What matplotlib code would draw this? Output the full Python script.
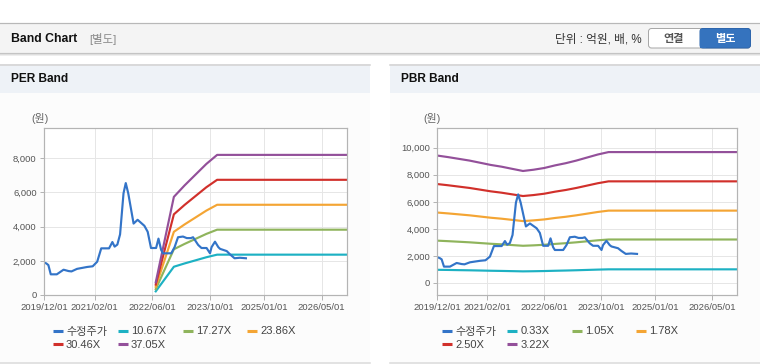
import matplotlib
matplotlib.use('Agg')
import matplotlib.pyplot as plt
import matplotlib.dates as mdates
from matplotlib.patches import Rectangle, FancyBboxPatch
import pandas as pd

plt.rcParams['font.family'] = ['Liberation Sans', 'Noto Sans CJK KR', 'DejaVu Sans']

# ---------------- data ----------------
price_dates = ['2019-12-01', '2019-12-20', '2020-01-07', '2020-01-27', '2020-03-18', '2020-05-14',
               '2020-06-26', '2020-07-20', '2020-09-05', '2020-11-29', '2021-01-15', '2021-02-22',
               '2021-03-28', '2021-06-02', '2021-06-30', '2021-07-19', '2021-08-11', '2021-09-03',
               '2021-10-02', '2021-10-21', '2021-11-11', '2021-12-26', '2022-01-29', '2022-03-27',
               '2022-04-24', '2022-05-22', '2022-07-04', '2022-07-24', '2022-08-15', '2022-08-30',
               '2022-11-09', '2022-12-07', '2023-01-05', '2023-02-16', '2023-03-20', '2023-04-23',
               '2023-05-12', '2023-06-24', '2023-07-22', '2023-09-03', '2023-10-02', '2023-10-15',
               '2023-11-13', '2023-12-11', '2023-12-26', '2024-02-20', '2024-03-20', '2024-04-26',
               '2024-06-10', '2024-07-31']
price_vals = [1900, 1850, 1750, 1210, 1210, 1480,
              1400, 1380, 1530, 1640, 1680, 1950,
              2730, 2730, 3100, 2830, 2950, 3550,
              5950, 6550, 5950, 4180, 4400, 4050,
              3700, 2750, 2750, 3300, 2650, 2440,
              2440, 2800, 3380, 3420, 3330, 3330,
              3380, 2930, 2750, 2750, 2440, 2800,
              3120, 2800, 2700, 2570, 2370, 2150,
              2180, 2150]

per_dates = ['2022-07-01', '2022-12-01', '2023-03-01', '2023-06-01', '2023-09-01', '2023-12-01', '2026-12-01']
per_10_67 = [213, 1654, 1846, 2027, 2209, 2361, 2361]
per_17_27 = [345, 2677, 2988, 3281, 3575, 3822, 3822]
per_23_86 = [477, 3698, 4128, 4533, 4939, 5280, 5280]
per_30_46 = [609, 4721, 5270, 5787, 6305, 6741, 6741]
per_37_05 = [741, 5743, 6410, 7040, 7669, 8199, 8199]
per_labels = ['수정주가', '10.67X', '17.27X', '23.86X', '30.46X', '37.05X']

pbr_dates = ['2019-12-01', '2020-03-01', '2020-06-01', '2020-09-01', '2020-12-01', '2021-03-01',
             '2021-06-01', '2021-09-01', '2021-12-01', '2022-03-01', '2022-06-01', '2022-09-01',
             '2022-12-01', '2023-03-01', '2023-06-01', '2023-09-01', '2023-12-01', '2026-12-01']
pbr_0_33 = [975, 965, 950, 938, 922, 905, 892, 876, 860, 870, 884, 905, 922, 942, 966, 990, 1010, 1010]
pbr_1_05 = [3130, 3092, 3050, 3007, 2953, 2900, 2857, 2803, 2751, 2782, 2825, 2889, 2943, 3007, 3082, 3157, 3215, 3215]
pbr_1_78 = [5207, 5144, 5073, 5002, 4913, 4824, 4753, 4664, 4576, 4628, 4699, 4806, 4895, 5002, 5126, 5251, 5349, 5349]
pbr_2_50 = [7313, 7225, 7125, 7025, 6900, 6775, 6675, 6550, 6428, 6500, 6600, 6750, 6875, 7025, 7200, 7375, 7513, 7513]
pbr_3_22 = [9419, 9306, 9177, 9048, 8887, 8726, 8597, 8436, 8279, 8372, 8501, 8694, 8855, 9048, 9274, 9499, 9676, 9676]
pbr_labels = ['수정주가', '0.33X', '1.05X', '1.78X', '2.50X', '3.22X']

x_ticks = ['2019-12-01', '2021-02-01', '2022-06-01', '2023-10-01', '2025-01-01', '2026-05-01']
x_range = ['2019-12-01', '2026-12-01']
per_yticks = [0, 2000, 4000, 6000, 8000]
pbr_yticks = [0, 2000, 4000, 6000, 8000, 10000]

colors = ['#3374c8', '#1db1c3', '#8fb45c', '#f4a534', '#d1302b', '#93509a']

# ---------------- figure ----------------
W, H = 760, 364
fig = plt.figure(figsize=(W / 100, H / 100), dpi=100)
fig.patch.set_facecolor('white')
bg = fig.add_axes([0, 0, 1, 1], zorder=0)
bg.set_xlim(0, W)
bg.set_ylim(H, 0)
bg.axis('off')

PX = 0.72  # 1px in points

# top header
bg.add_patch(Rectangle((0, 22.5), W, 30, facecolor='#f4f4f4', edgecolor='none'))
bg.plot([0, W], [22.5, 22.5], color='#b8b8b8', lw=1.2 * PX)
bg.plot([0, W], [53, 53], color='#c4c4c4', lw=1.2 * PX)
bg.plot([0, W], [54.2, 54.2], color='#dedede', lw=1 * PX)
bg.plot([0, W], [55.2, 55.2], color='#eeeeee', lw=1 * PX)
bg.text(11, 38.5, 'Band Chart', fontsize=8.8, fontweight='bold', color='#111111', va='center', ha='left')
bg.text(89, 39.3, '[별도]', fontsize=8.2, color='#8a8a8a', va='center', ha='left')
bg.text(642, 39.3, '단위 : 억원, 배, %', fontsize=8.4, color='#333333', va='center', ha='right')
bg.add_patch(FancyBboxPatch((648.5, 28.5), 102, 19.5, boxstyle='round,pad=0,rounding_size=3',
                            facecolor='white', edgecolor='#a8a8a8', lw=1 * PX))
bg.add_patch(FancyBboxPatch((700, 28.5), 50.5, 19.5, boxstyle='round,pad=0,rounding_size=3',
                            facecolor='#3573be', edgecolor='#2e66ad', lw=1 * PX))
bg.add_patch(Rectangle((700, 28.5), 6, 19.5, facecolor='#3573be', edgecolor='none'))
bg.text(674, 39.3, '연결', fontsize=8, fontweight='bold', color='#555555', va='center', ha='center')
bg.text(725.5, 39.3, '별도', fontsize=8, fontweight='bold', color='white', va='center', ha='center')

# panels
for px0, title in [(0, 'PER Band'), (390, 'PBR Band')]:
    bg.add_patch(Rectangle((px0, 64), 370, 299, facecolor='#fcfcfc', edgecolor='none'))
    bg.add_patch(Rectangle((px0, 64), 370, 28.5, facecolor='#eef2f7', edgecolor='none'))
    bg.plot([px0, px0 + 370], [64.5, 64.5], color='#d4d4d4', lw=1.6 * PX)
    bg.plot([px0, px0 + 370], [363, 363], color='#dcdcdc', lw=1.6 * PX)
    bg.text(px0 + 11, 79, title, fontsize=8.6, fontweight='bold', color='#111111', va='center', ha='left')

bg.text(39.7, 118.6, '(원)', fontsize=7.8, color='#666666', va='center', ha='center')
bg.text(431.7, 118.6, '(원)', fontsize=7.8, color='#666666', va='center', ha='center')


def make_axes(x0, x1, y0, y1):
    return fig.add_axes([x0 / W, 1 - y1 / H, (x1 - x0) / W, (y1 - y0) / H], zorder=2)


def style_axes(ax, ylim, yticks):
    ax.set_facecolor('white')
    ax.set_xlim(pd.to_datetime(x_range[0]), pd.to_datetime(x_range[1]))
    ax.set_ylim(*ylim)
    ax.set_yticks(yticks)
    ax.set_yticklabels([f'{v:,}' for v in yticks])
    ax.set_xticks(pd.to_datetime(x_ticks))
    ax.xaxis.set_major_formatter(mdates.DateFormatter('%Y/%m/%d'))
    for s in ax.spines.values():
        s.set_color('#b4b4b4')
        s.set_linewidth(1.2 * PX)
    ax.grid(True, color='#e6e6e6', lw=1 * PX)
    ax.set_axisbelow(True)
    ax.tick_params(axis='both', direction='out', length=4.5 * PX, width=1 * PX, color='#b4b4b4',
                   labelsize=6.8, labelcolor='#555555')
    ax.tick_params(axis='y', pad=2.0)
    ax.tick_params(axis='x', pad=2.4)


def draw_legend(x_off, labels):
    cols = [53, 118, 182.7, 247]
    rows = [330.7, 344]
    for i, (lab, c) in enumerate(zip(labels, colors)):
        r, k = divmod(i, 4)
        hx = cols[k] + x_off
        y = rows[r]
        bg.plot([hx, hx + 10], [y, y], color=c, lw=2.2, solid_capstyle='butt')
        dy = 1.0 if i == 0 else 0.5
        bg.text(hx + 13, y + dy, lab, fontsize=8.0, color='#444444', va='center', ha='left')


lw_line = 1.55

# PER chart
ax1 = make_axes(44, 347, 128.3, 295)
style_axes(ax1, (0, 9755), per_yticks)
pd_dates = pd.to_datetime(per_dates)
for vals, c in zip([per_10_67, per_17_27, per_23_86, per_30_46, per_37_05], colors[1:]):
    ax1.plot(pd_dates, vals, color=c, lw=lw_line)
ax1.plot(pd.to_datetime(price_dates), price_vals, color=colors[0], lw=lw_line)
draw_legend(0, per_labels)

# PBR chart
ax2 = make_axes(437.3, 737, 128.3, 295)
style_axes(ax2, (-887, 11434), pbr_yticks)
pb_dates = pd.to_datetime(pbr_dates)
for vals, c in zip([pbr_0_33, pbr_1_05, pbr_1_78, pbr_2_50, pbr_3_22], colors[1:]):
    ax2.plot(pb_dates, vals, color=c, lw=lw_line)
ax2.plot(pd.to_datetime(price_dates), price_vals, color=colors[0], lw=lw_line)
draw_legend(389.3, pbr_labels)

fig.savefig('out.png', dpi=100, facecolor='white')
